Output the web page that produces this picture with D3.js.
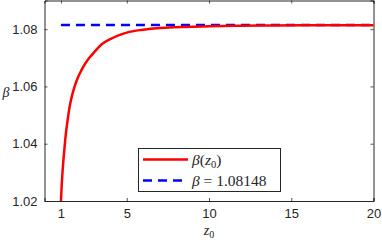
<!DOCTYPE html>
<html>
<head>
<meta charset="utf-8">
<script src="https://cdn.jsdelivr.net/npm/d3@7"></script>
<style>
  body { margin: 0; background: #fff; }
  svg { display: block; }
</style>
</head>
<body>
<div id="chart"></div>
<script>
// data
var z0 = [1, 1.05, 1.1, 1.2, 1.3, 1.4, 1.5, 1.6, 1.8, 2, 2.25, 2.5, 2.75, 3, 3.5, 4, 4.5, 5, 6, 7, 8, 10, 12, 14, 16, 18, 20];
var beta = [1.0200, 1.0260, 1.0305, 1.0375, 1.0435, 1.0480, 1.0520, 1.0550, 1.0594, 1.0627, 1.0657, 1.0682, 1.0702, 1.0718, 1.0748, 1.0765, 1.0778, 1.0788, 1.0798, 1.0804, 1.0807, 1.0810, 1.0812, 1.0813, 1.0814, 1.0814, 1.0814];
var betaLimit = 1.08148;
var xTicks = [1, 5, 10, 15, 20];
var yTicks = [1.02, 1.04, 1.06, 1.08];

var W = 382, H = 242;
var margin = {top: 0.5, right: 8.5, bottom: 41, left: 44.5};

var svg = d3.select("#chart").append("svg")
    .attr("width", W)
    .attr("height", H);

var x = d3.scaleLinear().domain([0, 20]).range([margin.left, W - margin.right]);
var y = d3.scaleLinear().domain([1.02, 1.09]).range([H - margin.bottom, margin.top]);

var axisColor = "#262626";

// bottom + top axes
var xb = svg.append("g")
    .attr("transform", "translate(0," + y(1.02) + ")")
    .call(d3.axisBottom(x).tickValues(xTicks).tickSize(-3).tickPadding(8).tickFormat(d3.format("d")));
var xt = svg.append("g")
    .attr("transform", "translate(0," + y(1.09) + ")")
    .call(d3.axisTop(x).tickValues(xTicks).tickSize(-3).tickFormat(""));
var yl = svg.append("g")
    .attr("transform", "translate(" + x(0) + ",0)")
    .call(d3.axisLeft(y).tickValues(yTicks).tickSize(-3).tickPadding(7).tickFormat(d3.format(".2f")));
var yr = svg.append("g")
    .attr("transform", "translate(" + x(20) + ",0)")
    .call(d3.axisRight(y).tickValues(yTicks).tickSize(-3).tickFormat(""));

[xb, xt, yl, yr].forEach(function(g) {
  g.select(".domain").attr("stroke", axisColor).attr("stroke-width", 1);
  g.selectAll(".tick line").attr("stroke", axisColor).attr("stroke-width", 0.8);
  g.selectAll(".tick text")
    .attr("fill", axisColor)
    .style("font-family", "Liberation Sans, Arial, sans-serif")
    .style("font-size", "13px");
});

// dashed limit line
svg.append("line")
    .attr("x1", x(1)).attr("x2", x(20))
    .attr("y1", y(betaLimit)).attr("y2", y(betaLimit))
    .attr("stroke", "#0000ff")
    .attr("stroke-width", 2.5)
    .attr("stroke-dasharray", "9,6");

// beta(z0) curve
var line = d3.line()
    .x(function(d, i) { return x(z0[i]); })
    .y(function(d) { return y(d); })
    .curve(d3.curveMonotoneX);

svg.append("path")
    .datum(beta)
    .attr("d", line)
    .attr("fill", "none")
    .attr("stroke", "#ff0000")
    .attr("stroke-width", 2.5);

// axis labels
svg.append("text")
    .attr("x", 6).attr("y", 97)
    .attr("text-anchor", "middle")
    .style("font-family", "Liberation Serif, DejaVu Serif, serif")
    .style("font-style", "italic")
    .style("font-size", "14px")
    .attr("fill", axisColor)
    .text("β");

var xl = svg.append("text")
    .attr("x", 209).attr("y", 235)
    .attr("text-anchor", "middle")
    .style("font-family", "Liberation Serif, DejaVu Serif, serif")
    .style("font-size", "14px")
    .attr("fill", axisColor);
xl.append("tspan").style("font-style", "italic").text("z");
xl.append("tspan").attr("dy", 3).style("font-size", "10px").text("0");

// legend
var leg = svg.append("g");
leg.append("rect")
    .attr("x", 138.5).attr("y", 148.5)
    .attr("width", 142).attr("height", 43)
    .attr("fill", "#fff")
    .attr("stroke", axisColor)
    .attr("stroke-width", 1);
leg.append("line")
    .attr("x1", 143).attr("x2", 188).attr("y1", 159.5).attr("y2", 159.5)
    .attr("stroke", "#ff0000").attr("stroke-width", 2.5);
leg.append("line")
    .attr("x1", 143).attr("x2", 188).attr("y1", 180.5).attr("y2", 180.5)
    .attr("stroke", "#0000ff").attr("stroke-width", 2.5)
    .attr("stroke-dasharray", "9,6");

var t1 = leg.append("text")
    .attr("x", 192).attr("y", 164.5)
    .style("font-family", "Liberation Serif, DejaVu Serif, serif")
    .style("font-size", "15.5px")
    .attr("fill", axisColor);
t1.append("tspan").style("font-style", "italic").text("β");
t1.append("tspan").text("(");
t1.append("tspan").style("font-style", "italic").text("z");
t1.append("tspan").attr("dy", 3).style("font-size", "10.5px").text("0");
t1.append("tspan").attr("dy", -3).text(")");

var t2 = leg.append("text")
    .attr("x", 192).attr("y", 185.5)
    .style("font-family", "Liberation Serif, DejaVu Serif, serif")
    .style("font-size", "15.5px")
    .attr("fill", axisColor);
t2.append("tspan").style("font-style", "italic").text("β");
t2.append("tspan").text(" = " + betaLimit);
</script>
</body>
</html>
